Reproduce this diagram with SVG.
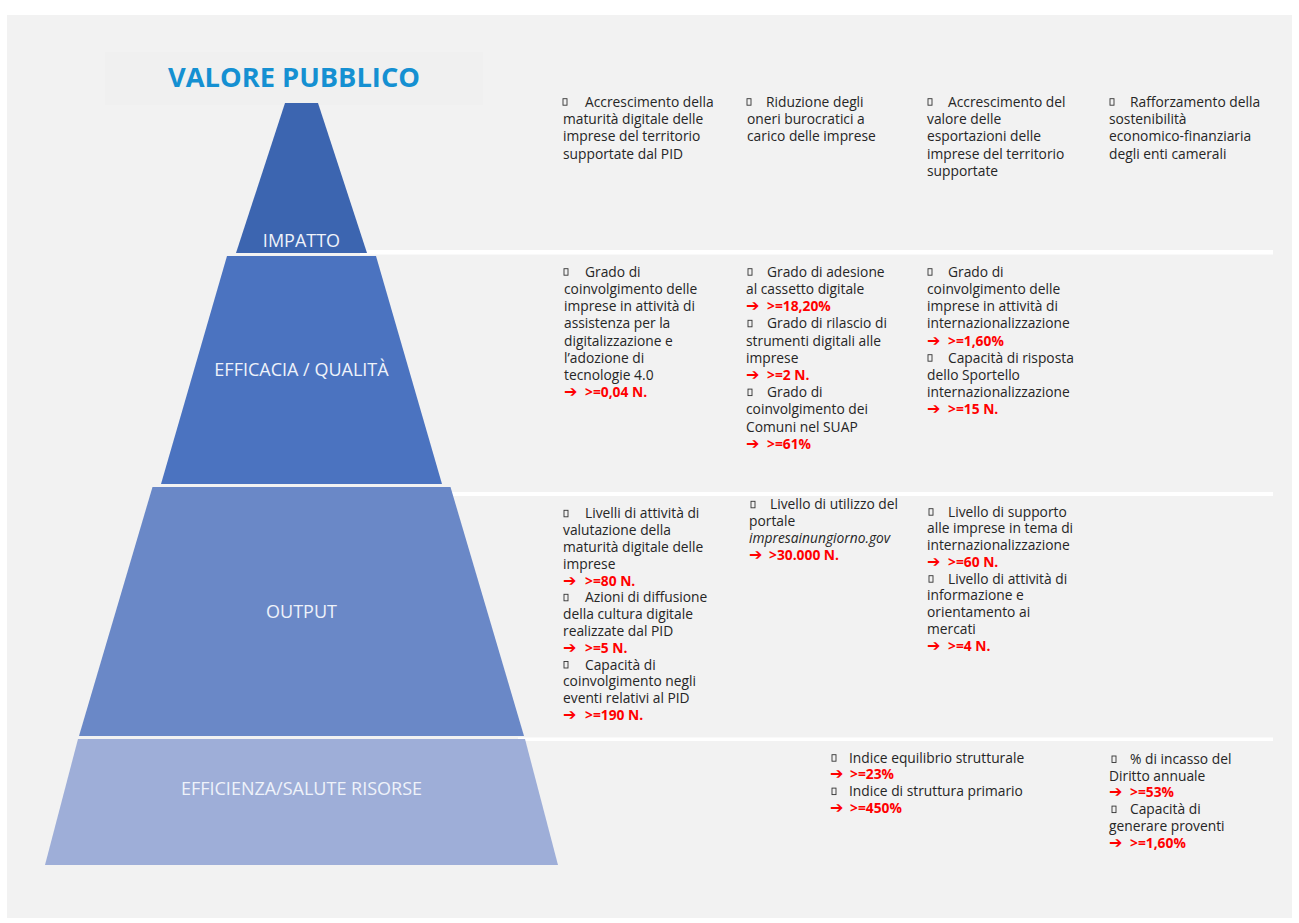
<svg xmlns="http://www.w3.org/2000/svg" width="1299" height="923" viewBox="0 0 1299 923">
<style>
.t{font-family:"Open Sans","DejaVu Sans",sans-serif;font-size:13.8px;fill:#262626}
.r{font-weight:bold;fill:#ff0000}
.a{font-family:"DejaVu Sans",sans-serif;font-weight:bold;font-size:16px;fill:#ff0000}
.i{font-style:italic}
.lab{font-family:"Open Sans","DejaVu Sans",sans-serif;font-size:18px;fill:#eef2fa;text-anchor:middle}
.b{fill:none;stroke:#333333;stroke-width:0.9}
.sep{fill:#ffffff}
</style>
<defs>
<rect id="bul" class="b" x="0" y="-8" width="4" height="6.5"/>
</defs>
<rect x="0" y="0" width="1299" height="923" fill="#ffffff"/>
<rect x="7" y="15" width="1285" height="903" fill="#f2f2f2"/>
<g id="title">
<rect x="105" y="52" width="378" height="53" fill="#f0f0f0"/>
<text x="294" y="87" text-anchor="middle" font-family="'Open Sans','DejaVu Sans',sans-serif" font-size="27" font-weight="bold" fill="#1590d2" textLength="252" lengthAdjust="spacingAndGlyphs">VALORE PUBBLICO</text>
</g>
<g id="separators">
<rect class="sep" x="360" y="250" width="913" height="4.5"/>
<rect class="sep" x="440" y="492" width="833" height="4"/>
<rect class="sep" x="518" y="737.5" width="755" height="3.5"/>
</g>
<g id="pyramid">
<polygon points="285,103 318,103 367,253 236,253" fill="#3c65b0"/>
<polygon points="227,256 376,256 442,484 161,484" fill="#4b73c0"/>
<polygon points="152.5,487 450.5,487 524,736 79,736" fill="#6a88c7"/>
<polygon points="78,739 525,739 558,865 45,865" fill="#9eaed8"/>
</g>
<g id="impatto"><text class="lab" x="301.5" y="247">IMPATTO</text></g>
<g id="efficacia"><text class="lab" x="301.5" y="376">EFFICACIA / QUALITÀ</text></g>
<g id="output"><text class="lab" x="301.5" y="618">OUTPUT</text></g>
<g id="efficienza"><text class="lab" x="301.5" y="795">EFFICIENZA/SALUTE RISORSE</text></g>

<g id="impatto-c1">
<use href="#bul" x="563" y="106.7"/>
<text class="t" y="106.7"><tspan x="585">Accrescimento della</tspan><tspan x="563" dy="17.3">maturità digitale delle</tspan><tspan x="563" dy="17.3">imprese del territorio</tspan><tspan x="563" dy="17.3">supportate dal PID</tspan></text>
</g>
<g id="impatto-c2">
<use href="#bul" x="747" y="106.7"/>
<text class="t" y="106.7"><tspan x="766">Riduzione degli</tspan><tspan x="747" dy="17.3">oneri burocratici a</tspan><tspan x="747" dy="17.3">carico delle imprese</tspan></text>
</g>
<g id="impatto-c3">
<use href="#bul" x="928" y="106.7"/>
<text class="t" y="106.7"><tspan x="948">Accrescimento del</tspan><tspan x="927" dy="17.3">valore delle</tspan><tspan x="927" dy="17.3">esportazioni delle</tspan><tspan x="927" dy="17.3">imprese del territorio</tspan><tspan x="927" dy="17.3">supportate</tspan></text>
</g>
<g id="impatto-c4">
<use href="#bul" x="1110" y="106.7"/>
<text class="t" y="106.7"><tspan x="1130">Rafforzamento della</tspan><tspan x="1109" dy="17.3">sostenibilità</tspan><tspan x="1109" dy="17.3">economico-finanziaria</tspan><tspan x="1109" dy="17.3">degli enti camerali</tspan></text>
</g>

<g id="efficacia-c1">
<use href="#bul" x="564" y="276.7"/>
<text class="t" y="276.7"><tspan x="585">Grado di</tspan><tspan x="564" dy="17.2">coinvolgimento delle</tspan><tspan x="564" dy="17.2">imprese in attività di</tspan><tspan x="564" dy="17.2">assistenza per la</tspan><tspan x="564" dy="17.2">digitalizzazione e</tspan><tspan x="564" dy="17.2">l’adozione di</tspan><tspan x="564" dy="17.2">tecnologie 4.0</tspan><tspan class="a" x="564" dy="17.2">➔</tspan><tspan class="r" x="585">&gt;=0,04 N.</tspan></text>
</g>
<g id="efficacia-c2">
<use href="#bul" x="748" y="276.7"/>
<use href="#bul" x="748" y="328.3"/>
<use href="#bul" x="748" y="397.1"/>
<text class="t" y="276.7"><tspan x="767">Grado di adesione</tspan><tspan x="746" dy="17.2">al cassetto digitale</tspan><tspan class="a" x="746" dy="17.2">➔</tspan><tspan class="r" x="767">&gt;=18,20%</tspan><tspan x="767" dy="17.2">Grado di rilascio di</tspan><tspan x="746" dy="17.2">strumenti digitali alle</tspan><tspan x="746" dy="17.2">imprese</tspan><tspan class="a" x="746" dy="17.2">➔</tspan><tspan class="r" x="767">&gt;=2 N.</tspan><tspan x="767" dy="17.2">Grado di</tspan><tspan x="746" dy="17.2">coinvolgimento dei</tspan><tspan x="746" dy="17.2">Comuni nel SUAP</tspan><tspan class="a" x="746" dy="17.2">➔</tspan><tspan class="r" x="767">&gt;=61%</tspan></text>
</g>
<g id="efficacia-c3">
<use href="#bul" x="928" y="276.7"/>
<use href="#bul" x="928" y="362.7"/>
<text class="t" y="276.7"><tspan x="948">Grado di</tspan><tspan x="927" dy="17.2">coinvolgimento delle</tspan><tspan x="927" dy="17.2">imprese in attività di</tspan><tspan x="927" dy="17.2">internazionalizzazione</tspan><tspan class="a" x="927" dy="17.2">➔</tspan><tspan class="r" x="948">&gt;=1,60%</tspan><tspan x="948" dy="17.2">Capacità di risposta</tspan><tspan x="927" dy="17.2">dello Sportello</tspan><tspan x="927" dy="17.2">internazionalizzazione</tspan><tspan class="a" x="927" dy="17.2">➔</tspan><tspan class="r" x="948">&gt;=15 N.</tspan></text>
</g>

<g id="output-c1">
<use href="#bul" x="564" y="518.3"/>
<use href="#bul" x="564" y="602.3"/>
<use href="#bul" x="564" y="669.5"/>
<text class="t" y="518.3"><tspan x="585">Livelli di attività di</tspan><tspan x="563" dy="16.8">valutazione della</tspan><tspan x="563" dy="16.8">maturità digitale delle</tspan><tspan x="563" dy="16.8">imprese</tspan><tspan class="a" x="563" dy="16.8">➔</tspan><tspan class="r" x="585">&gt;=80 N.</tspan><tspan x="585" dy="16.8">Azioni di diffusione</tspan><tspan x="563" dy="16.8">della cultura digitale</tspan><tspan x="563" dy="16.8">realizzate dal PID</tspan><tspan class="a" x="563" dy="16.8">➔</tspan><tspan class="r" x="585">&gt;=5 N.</tspan><tspan x="585" dy="16.8">Capacità di</tspan><tspan x="563" dy="16.8">coinvolgimento negli</tspan><tspan x="563" dy="16.8">eventi relativi al PID</tspan><tspan class="a" x="563" dy="16.8">➔</tspan><tspan class="r" x="585">&gt;=190 N.</tspan></text>
</g>
<g id="output-c2">
<use href="#bul" x="751" y="509.3"/>
<text class="t" y="509.3"><tspan x="770">Livello di utilizzo del</tspan><tspan x="749" dy="16.8">portale</tspan><tspan class="i" x="749" dy="16.8">impresainungiorno.gov</tspan><tspan class="a" x="749" dy="16.8">➔</tspan><tspan class="r" x="769">&gt;30.000 N.</tspan></text>
</g>
<g id="output-c3">
<use href="#bul" x="929" y="516.7"/>
<use href="#bul" x="929" y="583.7"/>
<text class="t" y="516.7"><tspan x="948">Livello di supporto</tspan><tspan x="927" dy="16.75">alle imprese in tema di</tspan><tspan x="927" dy="16.75">internazionalizzazione</tspan><tspan class="a" x="927" dy="16.75">➔</tspan><tspan class="r" x="948">&gt;=60 N.</tspan><tspan x="948" dy="16.75">Livello di attività di</tspan><tspan x="927" dy="16.75">informazione e</tspan><tspan x="927" dy="16.75">orientamento ai</tspan><tspan x="927" dy="16.75">mercati</tspan><tspan class="a" x="927" dy="16.75">➔</tspan><tspan class="r" x="948">&gt;=4 N.</tspan></text>
</g>

<g id="efficienza-c1">
<use href="#bul" x="832" y="762.7"/>
<use href="#bul" x="832" y="796.1"/>
<text class="t" y="762.7"><tspan x="849">Indice equilibrio strutturale</tspan><tspan class="a" x="830" dy="16.7">➔</tspan><tspan class="r" x="850">&gt;=23%</tspan><tspan x="849" dy="16.7">Indice di struttura primario</tspan><tspan class="a" x="830" dy="16.7">➔</tspan><tspan class="r" x="850">&gt;=450%</tspan></text>
</g>
<g id="efficienza-c2">
<use href="#bul" x="1112" y="764"/>
<use href="#bul" x="1112" y="814.1"/>
<text class="t" y="764"><tspan x="1130">% di incasso del</tspan><tspan x="1109" dy="16.7">Diritto annuale</tspan><tspan class="a" x="1109" dy="16.7">➔</tspan><tspan class="r" x="1130">&gt;=53%</tspan><tspan x="1130" dy="16.7">Capacità di</tspan><tspan x="1109" dy="16.7">generare proventi</tspan><tspan class="a" x="1109" dy="16.7">➔</tspan><tspan class="r" x="1130">&gt;=1,60%</tspan></text>
</g>
</svg>
